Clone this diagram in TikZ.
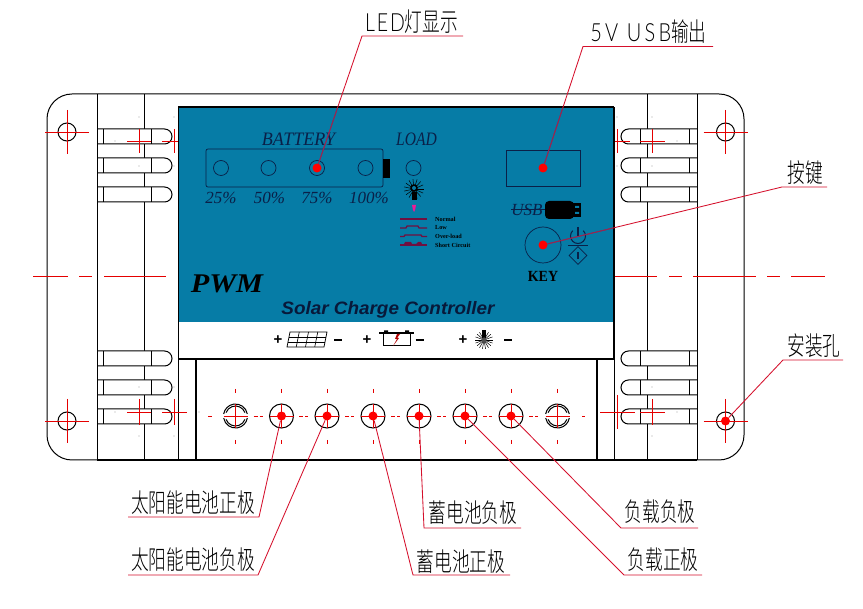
\documentclass[tikz,border=0pt]{standalone}
\usepackage{graphicx}
\usepackage{fontspec}
\usetikzlibrary{shapes.geometric}
\setmainfont{Liberation Serif}
\newfontfamily\cjk{Noto Sans CJK SC Light}
\newfontfamily\thinlat[LetterSpace=10]{Lato Light}
\newfontfamily\widelat[LetterSpace=16]{Lato Light}
\newfontfamily\hel{Liberation Sans}
\definecolor{panelblue}{HTML}{067CA6}
\definecolor{ink}{HTML}{0A2048}
\definecolor{redline}{HTML}{D5102C}
\definecolor{maroon}{HTML}{701040}
\definecolor{leaderdim}{HTML}{8A2A5A}
\newcommand{\fsz}[1]{\fontsize{#1}{#1}\selectfont}
\newcommand{\zh}[2][.68]{\scalebox{#1}[1]{\cjk\fsz{26}#2}}
\tikzset{
  x=1pt,y=-1pt,
  thin line/.style={draw=black,line width=1pt},
  thick line/.style={draw=black,line width=2pt},
  slotpart/.style={draw=black,line width=1pt,fill=white},
  center line/.style={draw=red!90!black,line width=.8pt},
  leader/.style={draw=redline,line width=.85pt},
  hole/.style={circle,draw=black,line width=1pt,minimum size=18pt,inner sep=0pt},
  led/.style={circle,draw=ink,line width=.7pt,minimum size=15pt,inner sep=0pt},
  terminal/.style={circle,draw=black,line width=1pt,minimum size=24pt,inner sep=0pt},
  reddot/.style={circle,fill=red,minimum size=9pt,inner sep=0pt},
  lbl/.style={inner sep=0pt,text=black},
  paneltxt/.style={inner sep=0pt,text=ink,font=\itshape},
  striptxt/.style={inner sep=0pt,font=\hel\bfseries\fsz{15}},
  tiny dot/.style={circle,fill=black,minimum size=.9pt,inner sep=0pt},
}
\begin{document}
\begin{tikzpicture}
\useasboundingbox (0,0) rectangle (863,609);
\fill[white] (0,0) rectangle (863,609);
% body
\draw[thin line,rounded corners=25pt] (47,94) rectangle (744,460);
\foreach \x in {144,647} \draw[thin line] (\x,94) -- (\x,460);
% slots left and right
\foreach \y in {129,158,187,351,380,409}{
  \draw[slotpart] (97,\y) -- (164.5,\y) arc (90:-90:7.5pt) -- (97,\y+15);
  \draw[thin line] (103,\y) -- (103,\y+15) (151,\y) -- (151,\y+15);
  \draw[slotpart] (697,\y) -- (628.5,\y) arc (90:270:7.5pt) -- (697,\y+15);
  \draw[thin line] (689,\y) -- (689,\y+15) (640,\y) -- (640,\y+15);
}
\foreach \x in {97,697} \draw[thin line] (\x,94) -- (\x,460);
\draw[thick line] (97,460) -- (697,460);
% panel
\fill[panelblue] (178,107) rectangle (614,322);
\draw[line width=2.4pt] (178,107) -- (614,107);
\draw[line width=1pt] (178,107) -- (178,460);
\draw[line width=1.6pt] (614,107) -- (614,359);
\draw[thin line] (614,359) -- (614,460);
\draw[line width=2pt] (178,359.5) -- (614,359.5);
\draw[line width=1.6pt] (196,359) -- (196,460);
\draw[line width=1.6pt] (597,359) -- (597,460);
% battery gauge
\draw[ink,line width=.7pt,rounded corners=2pt] (206,149) rectangle (383,187);
\fill[black] (383,159) rectangle (390,178);
\node[led] (l25) at (221,168) {};
\node[led] (l50) at (268.5,168) {};
\node[led] (l75) at (317,168) {};
\node[led] (l100) at (365.5,168) {};
\node[led] (lload) at (413.5,168) {};
\node[paneltxt] (tbat) at (298.5,139) {\scalebox{.95}[1]{\fsz{19}BATTERY}};
\node[paneltxt] (tload) at (416.5,139) {\scalebox{.82}[1]{\fsz{19}LOAD}};
\node[paneltxt] (p25) at (221,198) {\fsz{17}25\%};
\node[paneltxt] (p50) at (269.5,198) {\fsz{17}50\%};
\node[paneltxt] (p75) at (317,198) {\fsz{17}75\%};
\node[paneltxt] (p100) at (369,198) {\fsz{17}100\%};
% bulb
\foreach \a in {0,24,...,336} \draw[black,line width=.5pt] (414,189) -- ++(\a:10pt);
\fill[black] (414,188) circle (3.8pt);
\fill[panelblue] (414,188) circle (2pt);
\fill[black] (411.5,192) rectangle (416.5,200);
\fill[magenta!90!white] (412,205) -- (416,205) -- (415,210) -- (414,212) -- (413,210) -- cycle;
% legend
\draw[maroon,line width=1.3pt] (400,219) -- (427,219);
\draw[maroon,line width=1.3pt] (400,228) -- (406,228) -- (407,226) -- (418,226) -- (419,228) -- (427,228);
\draw[maroon,line width=1.3pt] (400,236.5) -- (404,236.5) -- (405,235) -- (421,235) -- (422,236.5) -- (427,236.5);
\draw[maroon,line width=1.3pt] (400,245) -- (404,245) (417,245) -- (427,245);
\fill[maroon] (403,246) -- (405,242) -- (411,242) -- (412,244) -- (416,244) -- (418,242) -- (421,242) -- (423,246) -- cycle;
\node[inner sep=0pt,anchor=west,text=black,font=\bfseries\fsz{6.2}] (n1) at (435,219) {Normal};
\node[inner sep=0pt,anchor=west,text=black,font=\bfseries\fsz{6.2}] (n2) at (435,227.5) {Low};
\node[inner sep=0pt,anchor=west,text=black,font=\bfseries\fsz{6.2}] (n3) at (435,236.5) {Over-load};
\node[inner sep=0pt,anchor=west,text=black,font=\bfseries\fsz{6.2}] (n4) at (435,245) {Short Circuit};
% USB and key
\node[draw=ink,line width=.9pt,minimum width=74pt,minimum height=36pt,inner sep=0pt] (usbbox) at (543,168) {};
\node[paneltxt] (usbt) at (527,209.5) {\fsz{17}USB};
\draw[ink,line width=.8pt] (511,209) -- (546,209);
\fill[black,rounded corners=4pt] (545,201) rectangle (574,219);
\fill[black] (570,203) rectangle (581,217);
\fill[panelblue] (575,206) rectangle (579,208) (575,212) rectangle (579,214);
\node[circle,draw=ink,line width=.7pt,minimum size=36pt,inner sep=0pt] (key) at (543,245) {};
\node[inner sep=0pt,text=black,font=\bfseries\fsz{15.5}] (keyt) at (543,276) {\scalebox{.9}[1]{KEY}};
\draw[ink,line width=1pt] (572.7,230.7) arc (135:405:7.5pt);
\draw[ink,line width=1.1pt] (578,227) -- (578,237);
\draw[ink,line width=.8pt] (568,245.5) -- (588,245.5);
\node[diamond,draw=ink,line width=.8pt,minimum size=18pt,inner sep=0pt,aspect=1] (dia) at (578,255.5) {};
\draw[ink,line width=1.1pt] (578,252) -- (578,259);
\node[inner sep=0pt,text=black,font=\bfseries\itshape\fsz{27}] (pwm) at (227,284) {\scalebox{1.12}[1]{PWM}};
\node[inner sep=0pt,text=ink!80!black,font=\hel\bfseries\itshape\fsz{18}] (scc) at (388,310) {\scalebox{1.05}[1]{Solar Charge Controller}};
% strip
\node[striptxt] (s1) at (278,340) {+};
\node[striptxt] (s2) at (338,340) {\rule{8pt}{1.6pt}};
\node[striptxt] (s3) at (367,340) {+};
\node[striptxt] (s4) at (419.5,340) {\rule{8pt}{1.6pt}};
\node[striptxt] (s5) at (463,340) {+};
\node[striptxt] (s6) at (508,340) {\rule{8pt}{1.6pt}};
\draw[black,line width=.7pt] (290,332) -- (327,332) -- (324,347) -- (287,347) -- cycle;
\draw[black,line width=.6pt] (289,337) -- (326,337) (288,342) -- (325,342);
\foreach \k in {1,2,3} \draw[black,line width=.6pt] (290+\k*9.25,332) -- (287+\k*9.25,347);
\draw[black,line width=.8pt] (383,333) rectangle (410,345);
\draw[black,line width=1.6pt] (379,333) -- (414,333);
\fill[black] (384,330.5) rectangle (388,333) (405,330.5) rectangle (409,333);
\fill[red!70!black] (397,334) -- (395,339) -- (397,339) -- (393,346) -- (399,338) -- (397,338) -- (400,334) -- cycle;
\foreach \a in {0,20,...,340} \draw[black,line width=.5pt] (484,340) -- ++(\a:9pt);
\fill[black] (482,330) rectangle (486,338);
\fill[black!70] (484,340) circle (2.6pt);
% centre lines
\draw[center line] (33,276.5) -- (68,276.5) (79,276.5) -- (92,276.5) (104,276.5) -- (166,276.5);
\draw[center line] (615,276.5) -- (657,276.5) (669,276.5) -- (682,276.5) (693,276.5) -- (756,276.5) (767,276.5) -- (780,276.5) (791,276.5) -- (825,276.5);
% mounting holes
\node[hole] (h1) at (67,132) {};
\node[hole] (h2) at (725.5,132) {};
\node[hole] (h3) at (67,421) {};
\node[hole] (h4) at (725.5,421) {};
\foreach \n in {h1,h2,h3,h4} {
  \draw[center line] (\n.center) ++(-22,0) -- ++(44,0);
  \draw[center line] (\n.center) ++(0,-22) -- ++(0,44);
}
% small marks
\foreach \cx/\cy/\xa/\xb/\ya/\yb in {139/141/127/151/129/153,174/141/162/178/129/153,139/412/127/151/399/425,174/412/162/187/399/425,617/141/615/630/129/153,652/141/640/665/129/153,617/412/600/635/395/429,652/412/640/665/399/425}
  \draw[center line] (\xa,\cy) -- (\xb,\cy) (\cx,\ya) -- (\cx,\yb);
\foreach \px/\py in {139/117,174/117,115/141,139/166,174/166,139/387,174/387,139/436,174/436,115/412,199/412,617/117,652/117,677/141,652/166,617/166,652/387,652/436,677/412}
  \node[tiny dot] at (\px,\py) {};
% terminals
\foreach \n/\x in {t2/281.5,t3/327,t4/373,t5/419,t6/465,t7/511}
  \node[terminal] (\n) at (\x,416) {};
\foreach \n/\x in {t1/235.5,t8/557.5}{
  \coordinate (\n) at (\x,416);
  \draw[thin line] (\n) ++(10:12pt) arc (10:170:12pt);
  \draw[thin line] (\n) ++(190:12pt) arc (190:350:12pt);
  \draw[thin line] (\n) ++(20:10pt) arc (20:160:10pt);
  \draw[thin line] (\n) ++(200:10pt) arc (200:340:10pt);
}
\foreach \x in {235.5,281.5,327,373,419,465,511,557.5}{
  \draw[center line] (\x-12,416) -- (\x+12,416) (\x,404) -- (\x,428);
  \draw[center line] (\x,389) -- (\x,393) (\x,440) -- (\x,444);
}
\foreach \c in {258.5,304,350,396,442,488,534}
  \draw[center line] (\c-5,416) -- (\c-1,416) (\c+1,416) -- (\c+4,416);
\draw[center line] (208,416) -- (212,416) (582,416) -- (585,416);
% red dots
\foreach \n/\p in {dled/l75,dusb/usbbox,dkey/key,dh/h4,d2/t2,d3/t3,d4/t4,d5/t5,d6/t6,d7/t7}
  \node[reddot] (\n) at (\p.center) {};
% leader ends
\coordinate (a1) at (362,36);   \coordinate (b1) at (463,36);
\coordinate (a2) at (583,46.5); \coordinate (b2) at (713,46.5);
\coordinate (a3) at (782,187);  \coordinate (b3) at (827,187);
\coordinate (a4) at (783,360);  \coordinate (b4) at (843,360);
\coordinate (a5) at (259,517);  \coordinate (b5) at (128,517);
\coordinate (a6) at (258,575);  \coordinate (b6) at (128,575);
\coordinate (a7) at (413,575);  \coordinate (b7) at (510,575);
\coordinate (a8) at (424,528);  \coordinate (b8) at (521,528);
\coordinate (a9) at (624,575);  \coordinate (b9) at (702,575);
\coordinate (a10) at (621,528); \coordinate (b10) at (698,528);
\draw[leader] (dled) -- (a1) -- (b1);
\draw[leader] (dusb) -- (a2) -- (b2);
\draw[leader] (dkey) -- (a3) -- (b3);
\draw[leader] (dh) -- (a4) -- (b4);
\draw[leader] (d2) -- (a5) -- (b5);
\draw[leader] (d3) -- (a6) -- (b6);
\draw[leader] (d4) -- (a7) -- (b7);
\draw[leader] (d5) -- (a8) -- (b8);
\draw[leader] (d6) -- (a9) -- (b9);
\draw[leader] (d7) -- (a10) -- (b10);
% leader parts over the blue panel look darker
\begin{scope}
\clip (178,108.5) rectangle (613,322);
\draw[leader,draw=leaderdim] (dled) -- (a1);
\draw[leader,draw=leaderdim] (dusb) -- (a2);
\draw[leader,draw=leaderdim] (dkey) -- (a3);
\end{scope}
% labels
\node[lbl] (L1) at (411.5,22) {\scalebox{.78}[1]{\thinlat\fsz{25}LED}\zh{灯显示}};
\node[lbl] (L2) at (648.5,32) {\scalebox{.8}[1]{\widelat\fsz{25}5V USB}\zh{输出}};
\node[lbl] (L3) at (805,173) {\zh{按键}};
\node[lbl] (L4) at (814,346) {\zh{安装孔}};
\node[lbl] (L5) at (193,503) {\zh{太阳能电池正极}};
\node[lbl] (L6) at (193,560) {\zh{太阳能电池负极}};
\node[lbl] (L7) at (461,562) {\zh{蓄电池正极}};
\node[lbl] (L8) at (473,513) {\zh{蓄电池负极}};
\node[lbl] (L9) at (663,560) {\zh{负载正极}};
\node[lbl] (L10) at (660,512) {\zh{负载负极}};
\end{tikzpicture}
\end{document}
